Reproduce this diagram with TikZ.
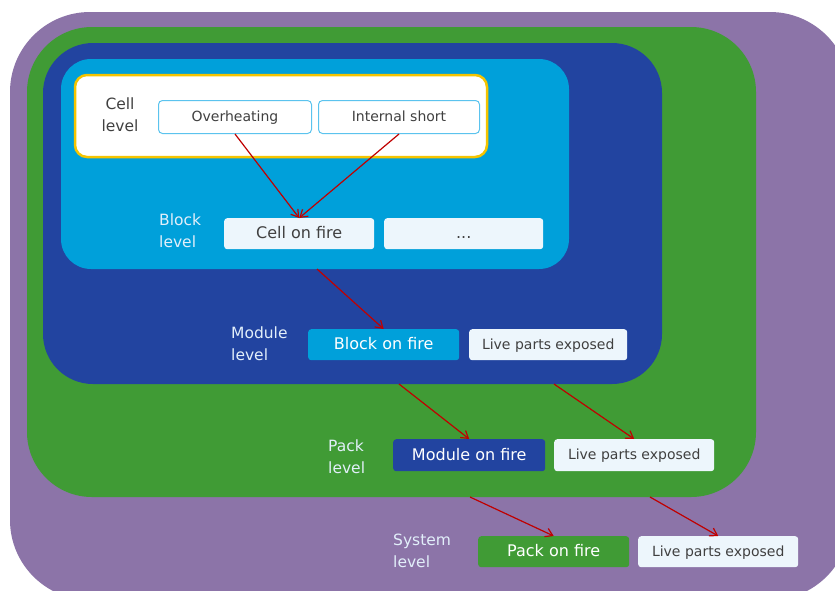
\documentclass[tikz,border=0pt]{standalone}
\usepackage{fontspec}
\setmainfont{DejaVu Sans}
\usetikzlibrary{arrows.meta, positioning}
\definecolor{syspurple}{HTML}{8C74A8}
\definecolor{packgreen}{HTML}{409B35}
\definecolor{moddblue}{HTML}{2244A0}
\definecolor{blklblue}{HTML}{00A0DA}
\definecolor{cellyellow}{HTML}{F5C400}
\definecolor{causeborder}{HTML}{5BC3EE}
\definecolor{boxlight}{HTML}{EDF6FC}
\definecolor{txtgray}{HTML}{404040}
\definecolor{lbltxt}{HTML}{E2EFFA}
\definecolor{firered}{HTML}{C00000}
\tikzstyle{arrow} = [line width=1.2pt, -{Straight Barb[length=7pt,width=9pt]}, firered]

\begin{document}
\begin{tikzpicture}[x=1pt, y=-1pt,
    levellabel/.style={anchor=west, align=left, text=lbltxt, font=\fontsize{15.5}{22}\selectfont, inner sep=0pt},
    causebox/.style={rectangle, rounded corners=4pt, draw=causeborder, line width=1pt, fill=white, text=txtgray, font=\fontsize{14}{16}\selectfont, text height=11pt, text depth=2pt, anchor=north west, inner sep=0pt, minimum height=33pt},
    eventbox/.style={rectangle, rounded corners=3pt, fill=boxlight, text=txtgray, font=\fontsize{16}{18}\selectfont, text height=12.5pt, text depth=2.5pt, anchor=north west, inner sep=0pt, minimum height=31pt},
    sidebox/.style={eventbox, font=\fontsize{14}{16}\selectfont, text height=11pt, text depth=2pt},
]

\useasboundingbox (0,0) rectangle (835,590);
\fill[white] (0,0) rectangle (835,590);
\clip (0,0) rectangle (835,590);

% Nested levels
\fill[syspurple, rounded corners=80pt] (10,12) rectangle (850,600);
\fill[packgreen, rounded corners=65pt] (27,27) rectangle (756,497);
\fill[moddblue, rounded corners=50pt] (43,43) rectangle (662,384);
\fill[blklblue, rounded corners=30pt] (61,59) rectangle (569,269);
\filldraw[fill=white, draw=cellyellow, line width=2.5pt, rounded corners=12pt] (75,75) rectangle (487,157);

% Cell level
\node[align=center, text=txtgray, font=\fontsize{15.5}{22}\selectfont, inner sep=0pt] (celllbl) at (120,115) {Cell\\level};
\node[causebox, minimum width=153pt] (ovh) at (158,100) {Overheating};
\node[causebox, minimum width=161pt] (isht) at (318,100) {Internal short};

% Block level
\node[levellabel] (blocklbl) at (159,231) {Block\\level};
\node[eventbox, minimum width=150pt] (cellfire) at (224,218) {Cell on fire};
\node[eventbox, minimum width=159pt] (dots) at (384,218) {...};

% Module level
\node[levellabel] (modlbl) at (231,344) {Module\\level};
\node[eventbox, fill=blklblue, text=white, minimum width=151pt] (blockfire) at (308,329) {Block on fire};
\node[sidebox, minimum width=158pt] (livemod) at (469,329) {Live parts exposed};

% Pack level
\node[levellabel] (packlbl) at (328,457) {Pack\\level};
\node[eventbox, fill=moddblue, text=white, minimum height=32pt, minimum width=152pt] (modfire) at (393,439) {Module on fire};
\node[sidebox, minimum height=32pt, minimum width=160pt] (livepack) at (554,439) {Live parts exposed};

% System level
\node[levellabel] (syslbl) at (393,551) {System\\level};
\node[eventbox, fill=packgreen, text=white, minimum width=151pt] (packfire) at (478,536) {Pack on fire};
\node[sidebox, minimum width=160pt] (livesys) at (638,536) {Live parts exposed};

% Propagation
\coordinate (blkbot) at (317,269);
\coordinate (modbot1) at (399,384);
\coordinate (modbot2) at (554,384);
\coordinate (packbot1) at (470,497);
\coordinate (packbot2) at (650,497);

\draw[arrow] (ovh.south) -- (cellfire.north);
\draw[arrow] (isht.south) -- (cellfire.north);
\draw[arrow] (blkbot) -- (blockfire.north);
\draw[arrow] (modbot1) -- (modfire.north);
\draw[arrow] (modbot2) -- (livepack.north);
\draw[arrow] (packbot1) -- (packfire.north);
\draw[arrow] (packbot2) -- (livesys.north);

\end{tikzpicture}
\end{document}
